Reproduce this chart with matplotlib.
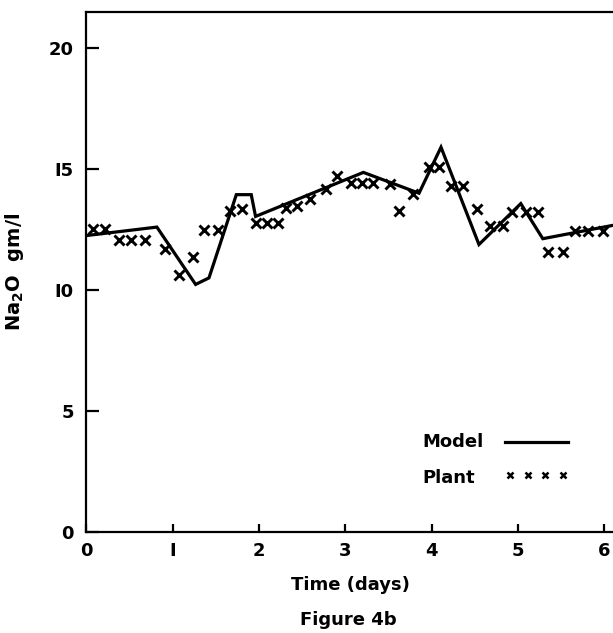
import numpy as np
from matplotlib import pyplot
from matplotlib.lines import Line2D
from matplotlib.legend_handler import HandlerLine2D

# model curve (days, Na2O gm/l)
model_t = [0.0, 0.816, 1.265, 1.42, 1.737, 1.91, 1.96, 3.21, 3.855, 4.11, 4.55, 5.035, 5.29, 6.1]
model_v = [12.25, 12.6, 10.23, 10.5, 13.94, 13.94, 13.04, 14.86, 14.0, 15.9, 11.88, 13.57, 12.12, 12.67]

# plant measurements
plant_t = [0.07, 0.21, 0.375, 0.52, 0.68, 0.905, 1.067, 1.24, 1.357, 1.52,
           1.667, 1.80, 1.96, 2.09, 2.22, 2.31, 2.44, 2.595, 2.78, 2.90,
           3.07, 3.19, 3.32, 3.515, 3.62, 3.78, 3.97, 4.09, 4.23, 4.37,
           4.53, 4.675, 4.83, 4.93, 5.09, 5.235, 5.35, 5.52, 5.66, 5.815, 5.99]
plant_v = [12.54, 12.54, 12.05, 12.05, 12.05, 11.71, 10.61, 11.35, 12.49, 12.49,
           13.25, 13.36, 12.77, 12.77, 12.77, 13.39, 13.48, 13.77, 14.19, 14.73,
           14.42, 14.42, 14.42, 14.39, 13.28, 13.98, 15.1, 15.1, 14.28, 14.28,
           13.35, 12.66, 12.63, 13.21, 13.21, 13.21, 11.57, 11.57, 12.43, 12.43, 12.43]

x_ticks = [0, 1, 2, 3, 4, 5, 6]
y_ticks = [0, 5, 10, 15, 20]
legend_labels = ['Model', 'Plant']

pyplot.rcParams['font.family'] = 'DejaVu Sans'
pyplot.rcParams['font.weight'] = 'bold'

fig = pyplot.figure(figsize=(6.13, 6.33), dpi=100)
ax = fig.add_axes([0.1411, 0.1596, 0.8589, 0.8215])

ax.plot(model_t, model_v, color='k', lw=2.3, solid_joinstyle='miter')
ax.plot(plant_t, plant_v, ls='none', marker='x', color='k', ms=6.5, mew=2.1)

ax.set_xlim(0, 6.104)
ax.set_ylim(0, 21.49)
ax.set_xticks(x_ticks)
ax.set_yticks(y_ticks)
ax.set_xticklabels(['0', 'I', '2', '3', '4', '5', '6'])
ax.set_yticklabels(['0', '5', 'I0', 'I5', '20'])
ax.tick_params(axis='both', direction='in', width=1.6, labelsize=13, color='k')
ax.tick_params(axis='y', length=9, pad=9)
ax.tick_params(axis='x', length=6, pad=7)

ax.spines['right'].set_visible(False)
for s in ['left', 'bottom', 'top']:
    ax.spines[s].set_linewidth(1.6)

ax.set_ylabel('Na$_\\mathbf{2}$O  gm/l', fontsize=14, fontweight='bold')
ax.yaxis.set_label_coords(-0.115, 0.5)
ax.set_xlabel('Time (days)', fontsize=13, fontweight='bold')
ax.xaxis.set_label_coords(0.502, -0.085)

fig.text(0.569, 0.0205, 'Figure 4b', ha='center', va='center', fontsize=13, fontweight='bold')

# legend: handles from the library, labels placed as text to keep them left aligned
model_h = Line2D([], [], color='k', lw=2.3)
plant_h = Line2D([], [], ls='none', marker='x', color='k', ms=4.5, mew=1.8)
leg = ax.legend([model_h, plant_h], ['', ''], loc='center left', bbox_to_anchor=(0.7846, 0.1385),
                frameon=False, numpoints=4, handlelength=4.09, handletextpad=0,
                labelspacing=0.85, borderpad=0, borderaxespad=0,
                handler_map={plant_h: HandlerLine2D(marker_pad=0.58, numpoints=4)},
                prop={'size': 13, 'weight': 'bold'})
for lab, yy in zip(legend_labels, [0.173, 0.104]):
    ax.text(0.637, yy, lab, transform=ax.transAxes, ha='left', va='center',
            fontsize=13, fontweight='bold')

pyplot.savefig('out.png', dpi=100)
